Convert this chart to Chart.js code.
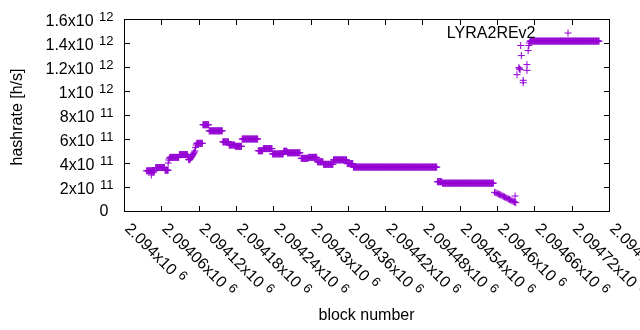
<!DOCTYPE html>
<html><head><meta charset="utf-8">
<script src="https://cdn.jsdelivr.net/npm/chart.js@4/dist/chart.umd.min.js"></script>
<style>html,body{margin:0;padding:0;background:#fff;}canvas{display:block;}</style>
</head><body>
<canvas id="c" width="640" height="330"></canvas>
<script>
// ---- data ----
const seriesName = 'LYRA2REv2';
const xTitle = 'block number';
const yTitle = 'hashrate [h/s]';

// flat runs: every block from runStart to runEnd has the same hashrate
const runStart = [2094038,2094051,2094066,2094074,2094089,2094117,2094127,2094137,2094159,2094169,2094179,2094190,2094216,2094224,2094239,2094257,2094263,2094285,2094297,2094311,2094321,2094337,2094359,2094369,2094504,2094512,2094653];
const runEnd   = [2094049,2094065,2094071,2094088,2094102,2094126,2094136,2094158,2094168,2094178,2094189,2094215,2094223,2094238,2094256,2094262,2094283,2094296,2094310,2094320,2094336,2094358,2094368,2094503,2094511,2094594,2094764];
const runHashrate = [3.35e11,3.62e11,3.40e11,4.47e11,4.70e11,5.64e11,7.19e11,6.68e11,5.76e11,5.50e11,5.39e11,6.00e11,5.02e11,5.20e11,4.76e11,4.98e11,4.85e11,4.39e11,4.47e11,4.10e11,3.89e11,4.26e11,3.95e11,3.66e11,2.44e11,2.32e11,1.416e12];

// individual points
const looseBlock = [2094036,2094044,2094047,2094071,2094072,2094073,
  2094103,2094104,2094105,2094106,2094107,2094108,2094109,2094110,2094111,2094112,2094113,2094114,2094115,2094116,
  2094596,2094598,2094600,2094602,2094604,2094606,2094608,2094610,2094612,2094614,2094616,2094618,2094620,2094622,2094624,2094626,2094628,2094629,2094630,
  2094632,2094635,2094636,2094637,2094638,2094639,2094642,2094642,2094648,2094648,2094650,2094651,2094652];
const looseHashrate = [3.35e11,3.00e11,3.20e11,4.00e11,4.25e11,4.40e11,
  4.55e11,4.30e11,4.25e11,4.30e11,4.40e11,4.45e11,4.55e11,4.60e11,4.70e11,4.80e11,4.90e11,5.00e11,5.30e11,5.50e11,
  1.56e11,1.52e11,1.47e11,1.42e11,1.38e11,1.33e11,1.28e11,1.22e11,1.17e11,1.12e11,1.06e11,1.01e11,0.96e11,0.90e11,0.85e11,0.80e11,0.75e11,1.25e11,0.70e11,
  1.136e12,1.195e12,1.185e12,1.178e12,1.379e12,1.295e12,1.089e12,1.069e12,1.220e12,1.172e12,1.337e12,1.379e12,1.400e12];

const xTickValues = [2094000,2094060,2094120,2094180,2094240,2094300,2094360,2094420,2094480,2094540,2094600,2094660,2094720,2094780];
const xTickMantissa = ['2.094x10','2.09406x10','2.09412x10','2.09418x10','2.09424x10','2.0943x10','2.09436x10','2.09442x10','2.09448x10','2.09454x10','2.0946x10','2.09466x10','2.09472x10','2.09478x10'];
const xTickExponent = ['6','6','6','6','6','6','6','6','6','6','6','6','6','6'];

const yTickValues = [0,2e11,4e11,6e11,8e11,1e12,1.2e12,1.4e12,1.6e12];
const yTickMantissa = ['0','2x10','4x10','6x10','8x10','1x10','1.2x10','1.4x10','1.6x10'];
const yTickExponent = ['','11','11','11','11','12','12','12','12'];

// ---- build points ----
const points = [];
runStart.forEach((s, i) => {
  for (let b = s; b <= runEnd[i]; b++) points.push({x: b, y: runHashrate[i]});
});
looseBlock.forEach((b, i) => points.push({x: b, y: looseHashrate[i]}));

const COLOR = '#9400d3';
const FONT = '"Liberation Sans", Arial, sans-serif';
const FS = 16, FSE = 13;

const gnuplotLook = {
  id: 'gnuplotLook',
  afterDraw(chart) {
    const ctx = chart.ctx, a = chart.chartArea;
    const xs = chart.scales.x, ys = chart.scales.y;
    const L = Math.round(a.left), R = Math.round(a.right), T = Math.round(a.top), B = Math.round(a.bottom);
    ctx.save();
    ctx.strokeStyle = '#000'; ctx.lineWidth = 1;
    ctx.beginPath();
    ctx.rect(L + 0.5, T + 0.5, R - L, B - T);
    yTickValues.forEach(v => {
      const y = Math.round(ys.getPixelForValue(v)) + 0.5;
      ctx.moveTo(L, y); ctx.lineTo(L + 6, y);
      ctx.moveTo(R + 1, y); ctx.lineTo(R - 5, y);
    });
    xTickValues.forEach(v => {
      const x = Math.round(xs.getPixelForValue(v)) + 0.5;
      ctx.moveTo(x, B + 1); ctx.lineTo(x, B - 5);
      ctx.moveTo(x, T); ctx.lineTo(x, T + 6);
    });
    ctx.stroke();

    ctx.fillStyle = '#000';
    yTickValues.forEach((v, i) => {
      const y = ys.getPixelForValue(v);
      const m = yTickMantissa[i], e = yTickExponent[i];
      ctx.textAlign = 'left'; ctx.textBaseline = 'alphabetic';
      if (!e) {
        ctx.font = FS + 'px ' + FONT;
        const w = ctx.measureText(m).width;
        ctx.fillText(m, 108.5 - w, y + 5);
      } else {
        ctx.font = FSE + 'px ' + FONT;
        const we = ctx.measureText(e).width;
        ctx.font = FS + 'px ' + FONT;
        const wm = ctx.measureText(m).width;
        const x0 = 113.5 - we - 5.5 - wm;
        ctx.fillText(m, x0, y + 7);
        ctx.font = FSE + 'px ' + FONT;
        ctx.fillText(e, x0 + wm + 5.5, y + 2.2);
      }
    });
    xTickValues.forEach((v, i) => {
      const x = xs.getPixelForValue(v);
      ctx.save();
      ctx.translate(x, B + 18.5);
      ctx.rotate(Math.PI / 4);
      ctx.textAlign = 'left'; ctx.textBaseline = 'alphabetic';
      ctx.font = FS + 'px ' + FONT;
      const wm = ctx.measureText(xTickMantissa[i]).width;
      ctx.fillText(xTickMantissa[i], 0, 0);
      ctx.font = FSE + 'px ' + FONT;
      ctx.fillText(xTickExponent[i], wm + 5, -5);
      ctx.restore();
    });
    ctx.font = FS + 'px ' + FONT;
    ctx.textAlign = 'center'; ctx.textBaseline = 'middle';
    ctx.fillText(xTitle, (L + R) / 2, 316);
    ctx.save();
    ctx.translate(17.5, (T + B) / 2 + 2);
    ctx.rotate(-Math.PI / 2);
    ctx.fillText(yTitle, 0, 0);
    ctx.restore();
    ctx.textAlign = 'right'; ctx.textBaseline = 'alphabetic';
    ctx.fillText(chart.data.datasets[0].label, 535.5, 38);
    ctx.strokeStyle = COLOR;
    ctx.beginPath();
    ctx.moveTo(564.5, 33); ctx.lineTo(571.5, 33);
    ctx.moveTo(568, 29.5); ctx.lineTo(568, 36.5);
    ctx.stroke();
    ctx.restore();
  }
};

new Chart(document.getElementById('c'), {
  type: 'scatter',
  data: { datasets: [{
    label: seriesName,
    data: points,
    pointStyle: 'cross',
    pointRadius: 3.5,
    pointBorderWidth: 1,
    borderColor: COLOR,
    backgroundColor: COLOR,
    showLine: false
  }]},
  options: {
    responsive: false,
    devicePixelRatio: 1,
    animation: false,
    events: [],
    layout: { padding: { top: 19, right: 31, left: 0, bottom: 0 } },
    plugins: { legend: { display: false }, tooltip: { enabled: false } },
    scales: {
      x: {
        type: 'linear', min: 2094000, max: 2094780,
        ticks: { display: false, stepSize: 60 },
        grid: { display: false }, border: { display: false },
        afterFit: s => { s.height = 119; }
      },
      y: {
        type: 'linear', min: 0, max: 1.6e12,
        ticks: { display: false, stepSize: 2e11 },
        grid: { display: false }, border: { display: false },
        afterFit: s => { s.width = 124; }
      }
    }
  },
  plugins: [gnuplotLook]
});
</script>
</body></html>
